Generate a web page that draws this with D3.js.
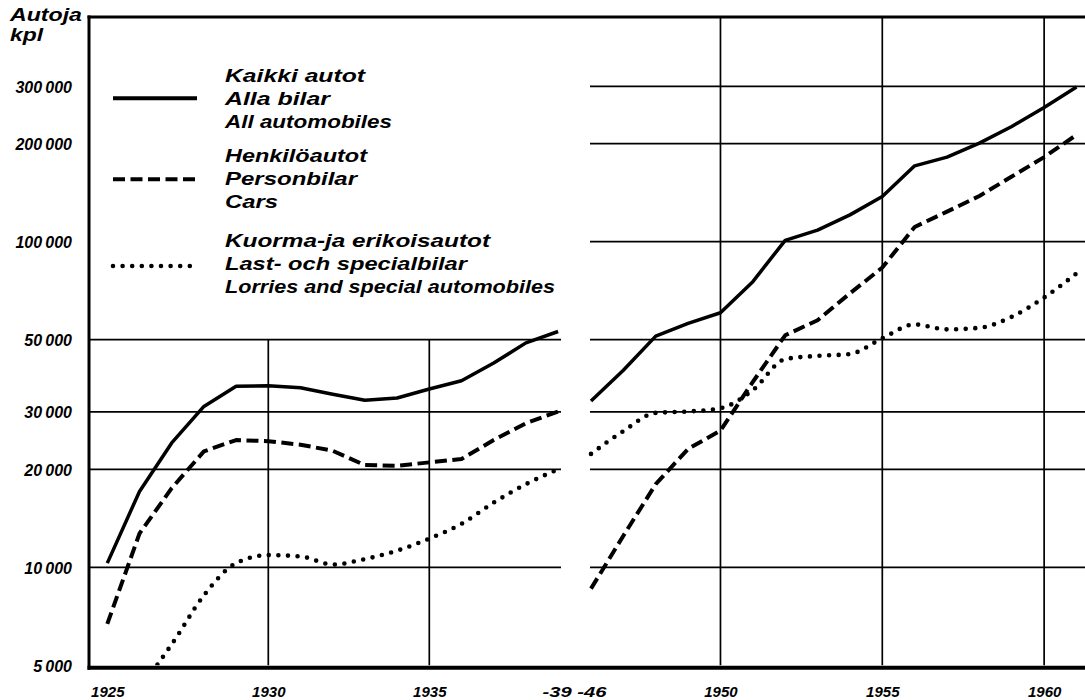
<!DOCTYPE html>
<html>
<head>
<meta charset="utf-8">
<script src="https://cdn.jsdelivr.net/npm/d3@7/dist/d3.min.js"></script>
<style>
  html, body { margin: 0; padding: 0; background: #fff; }
  svg { display: block; }
  text { font-family: "Liberation Sans", Arial, sans-serif; font-weight: bold; font-style: italic; fill: #000; }
</style>
</head>
<body>
<svg id="chart" width="1085" height="700"></svg>
<script>
// ---------- data ----------
const yearsLeft = [1925, 1926, 1927, 1928, 1929, 1930, 1931, 1932, 1933, 1934, 1935, 1936, 1937, 1938, 1939];
const allLeft = [10300, 17100, 24100, 31200, 36000, 36100, 35600, 34000, 32600, 33100, 35300, 37400, 42400, 48900, 53000];
const carsLeft = [6700, 12700, 17500, 22700, 24600, 24400, 23800, 22800, 20600, 20500, 21000, 21500, 24600, 27700, 30100];
const lorriesLeft = [3700, 4300, 5800, 8200, 10300, 10900, 10800, 10200, 10600, 11250, 12250, 13600, 15800, 18000, 20000];

const yearsRight = [1946, 1947, 1948, 1949, 1950, 1951, 1952, 1953, 1954, 1955, 1956, 1957, 1958, 1959, 1960, 1961];
const allRight = [32400, 40300, 51300, 56100, 60500, 75400, 101000, 108600, 120900, 137600, 171000, 181900, 200800, 225900, 258500, 298700];
const carsRight = [8600, 12500, 18000, 23100, 26300, 37100, 51600, 57400, 69400, 83300, 111000, 123700, 138200, 158500, 181900, 212900];
const lorriesRight = [22300, 26200, 29800, 30100, 30800, 35000, 43600, 44600, 45200, 50500, 55700, 53800, 54400, 58800, 67400, 79900];

const yTickValues = [5000, 10000, 20000, 30000, 50000, 100000, 200000, 300000];
const gridLeftValues = [10000, 20000, 30000, 50000];
const gridRightValues = [10000, 20000, 30000, 50000, 100000, 200000, 300000];
const xTicksLeft = [1925, 1930, 1935];
const xGridLeft = [1930, 1935];
const xTicksRight = [1950, 1955, 1960];
const breakLabel = "-39 -46";
const yTitle = ["Autoja", "kpl"];

const legendSeries = ["all", "cars", "lorries"];
const legendLabels = [
  ["Kaikki autot", "Alla bilar", "All automobiles"],
  ["Henkilöautot", "Personbilar", "Cars"],
  ["Kuorma-ja erikoisautot", "Last- och specialbilar", "Lorries and special automobiles"]
];

// ---------- layout ----------
const svg = d3.select("#chart");
const axisX = 89;
const rightEdge = 1085;
const leftPanelEnd = 561;
const rightPanelStart = 590;

const y = d3.scaleLog().domain([5000, 490000]).range([665.3, 17]);
const xL = d3.scaleLinear().domain([1925, 1939]).range([107.3, 558.1]);
const xR = d3.scaleLinear().domain([1946, 1961]).range([591, 1076.5]);

const styles = {
  all: { width: 3.5, dash: null, cap: "butt", curve: d3.curveLinear },
  cars: { width: 4, dash: "12,5.5", cap: "butt", curve: d3.curveLinear },
  lorries: { width: 4.6, dash: "0,9.6", cap: "round", curve: d3.curveMonotoneX }
};

// clip paths
const defs = svg.append("defs");
defs.append("clipPath").attr("id", "clipL").append("rect")
  .attr("x", axisX).attr("y", y.range()[1]).attr("width", leftPanelEnd - axisX)
  .attr("height", y(5000) - y.range()[1]);
defs.append("clipPath").attr("id", "clipR").append("rect")
  .attr("x", rightPanelStart - 5).attr("y", y.range()[1]).attr("width", rightEdge - rightPanelStart + 5)
  .attr("height", y(5000) - y.range()[1]);

// ---------- grid ----------
const grid = svg.append("g").attr("stroke", "#000").attr("stroke-width", 1.7);
grid.selectAll("line.hl").data(gridLeftValues).join("line")
  .attr("x1", axisX).attr("x2", leftPanelEnd)
  .attr("y1", d => y(d)).attr("y2", d => y(d));
grid.selectAll("line.hr").data(gridRightValues).join("line")
  .attr("x1", rightPanelStart).attr("x2", rightEdge)
  .attr("y1", d => y(d)).attr("y2", d => y(d));
grid.selectAll("line.vl").data(xGridLeft).join("line")
  .attr("x1", d => xL(d)).attr("x2", d => xL(d))
  .attr("y1", y(50000)).attr("y2", y(5000));
grid.selectAll("line.vr").data(xTicksRight).join("line")
  .attr("x1", d => xR(d)).attr("x2", d => xR(d))
  .attr("y1", y.range()[1]).attr("y2", y(5000));

// frame
svg.append("line").attr("x1", axisX).attr("x2", axisX)
  .attr("y1", y.range()[1] - 1.5).attr("y2", y(5000) + 4.5)
  .attr("stroke", "#000").attr("stroke-width", 3);
svg.append("line").attr("x1", axisX - 1.5).attr("x2", rightEdge)
  .attr("y1", y.range()[1]).attr("y2", y.range()[1])
  .attr("stroke", "#000").attr("stroke-width", 3.2);
svg.append("line").attr("x1", axisX - 1.5).attr("x2", rightEdge)
  .attr("y1", y(5000) + 2.5).attr("y2", y(5000) + 2.5)
  .attr("stroke", "#000").attr("stroke-width", 4);

// ---------- series ----------
function drawSeries(xs, years, vals, key, clip) {
  const st = styles[key];
  const line = d3.line()
    .x((d, i) => xs(years[i]))
    .y(d => y(d))
    .curve(st.curve);
  svg.append("path")
    .attr("clip-path", `url(#${clip})`)
    .attr("d", line(vals))
    .attr("fill", "none")
    .attr("stroke", "#000")
    .attr("stroke-width", st.width)
    .attr("stroke-linecap", st.cap)
    .attr("stroke-linejoin", "round")
    .attr("stroke-dasharray", st.dash);
}
drawSeries(xL, yearsLeft, allLeft, "all", "clipL");
drawSeries(xL, yearsLeft, carsLeft, "cars", "clipL");
drawSeries(xL, yearsLeft, lorriesLeft, "lorries", "clipL");
drawSeries(xR, yearsRight, allRight, "all", "clipR");
drawSeries(xR, yearsRight, carsRight, "cars", "clipR");
drawSeries(xR, yearsRight, lorriesRight, "lorries", "clipR");

// ---------- axes ----------
const fmt = d => d3.format(",")(d).replace(/,/g, "\u2009");
const yAxis = d3.axisLeft(y).tickValues(yTickValues).tickFormat(fmt).tickSize(0).tickPadding(0);
const gy = svg.append("g").attr("transform", `translate(72,0)`).call(yAxis);
gy.select(".domain").remove();
gy.selectAll("text").attr("font-size", 16).attr("dy", "0.36em")
  .style("font-family", "'Liberation Sans', Arial, sans-serif").style("font-weight", "bold").style("font-style", "italic");

const xAxisL = d3.axisBottom(xL).tickValues(xTicksLeft).tickFormat(d3.format("d")).tickSize(0).tickPadding(0);
const gxl = svg.append("g").attr("transform", `translate(0,686)`).call(xAxisL);
gxl.select(".domain").remove();
const xAxisR = d3.axisBottom(xR).tickValues(xTicksRight).tickFormat(d3.format("d")).tickSize(0).tickPadding(0);
const gxr = svg.append("g").attr("transform", `translate(0,686)`).call(xAxisR);
gxr.select(".domain").remove();
svg.selectAll(".tick text").style("font-family", "'Liberation Sans', Arial, sans-serif")
  .style("font-weight", "bold").style("font-style", "italic");
gxl.selectAll("text").attr("font-size", 15).attr("dy", "0.71em");
gxr.selectAll("text").attr("font-size", 15).attr("dy", "0.71em");
svg.append("text")
  .attr("x", (xL(1939) + xR(1946)) / 2).attr("y", 697)
  .attr("text-anchor", "middle").attr("font-size", 15)
  .attr("textLength", 64).attr("lengthAdjust", "spacingAndGlyphs")
  .text(breakLabel);

// y title
svg.append("text").attr("x", 10).attr("y", 21).attr("font-size", 19)
  .attr("textLength", 72).attr("lengthAdjust", "spacingAndGlyphs").text(yTitle[0]);
svg.append("text").attr("x", 10).attr("y", 41).attr("font-size", 18)
  .attr("textLength", 33).attr("lengthAdjust", "spacingAndGlyphs").text(yTitle[1]);

// ---------- legend ----------
const legendTop = [81.7, 161.7, 246.7];
const legendLineY = [98.3, 179.3, 266];
const legendLineX = [[113, 197], [113, 197], [113, 194]];
const legendWidths = [[140, 105, 167], [142, 132, 53], [265, 242, 330]];
const legendStep = 23;
legendSeries.forEach((key, i) => {
  const st = styles[key];
  svg.append("line")
    .attr("x1", legendLineX[i][0]).attr("x2", legendLineX[i][1])
    .attr("y1", legendLineY[i]).attr("y2", legendLineY[i])
    .attr("stroke", "#000").attr("stroke-width", key === "all" ? 4 : st.width)
    .attr("stroke-linecap", st.cap)
    .attr("stroke-dasharray", st.dash);
  legendLabels[i].forEach((t, j) => {
    svg.append("text")
      .attr("x", 225).attr("y", legendTop[i] + j * legendStep)
      .attr("font-size", 19)
      .attr("textLength", legendWidths[i][j]).attr("lengthAdjust", "spacingAndGlyphs")
      .text(t);
  });
});
</script>
</body>
</html>
